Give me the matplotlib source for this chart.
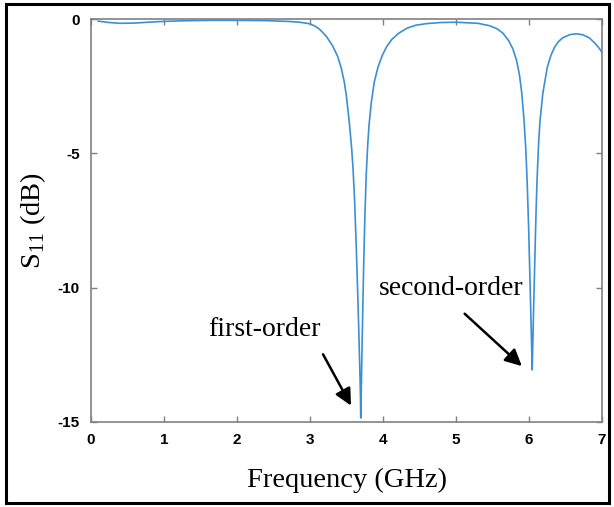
import matplotlib
matplotlib.use("Agg")
import matplotlib.pyplot as plt
from matplotlib.patches import Rectangle

# frequency (GHz) and reflection coefficient S11 (dB)
freq = [0.10, 0.25, 0.40, 0.60, 0.90, 1.20, 1.60, 2.00, 2.40, 2.70, 2.86, 3.00,
        3.08, 3.13, 3.22, 3.31, 3.38, 3.43, 3.47, 3.50, 3.54, 3.57, 3.59, 3.61,
        3.63, 3.65, 3.665, 3.68, 3.69, 3.695, 3.705, 3.715, 3.725, 3.735, 3.75,
        3.77, 3.79, 3.81, 3.84, 3.88, 3.93, 3.99, 4.05, 4.12, 4.22, 4.33, 4.45,
        4.60, 4.80, 5.00, 5.30, 5.46, 5.56, 5.64, 5.72, 5.78, 5.83, 5.87, 5.90,
        5.93, 5.955, 5.975, 5.995, 6.01, 6.025, 6.035, 6.043, 6.05, 6.06, 6.07,
        6.08, 6.095, 6.11, 6.13, 6.15, 6.19, 6.25, 6.30, 6.35, 6.40, 6.46, 6.56,
        6.65, 6.74, 6.83, 6.91, 6.97, 7.00]
s11 = [-0.08, -0.13, -0.16, -0.15, -0.10, -0.07, -0.05, -0.05, -0.06, -0.09, -0.12, -0.18,
       -0.28, -0.38, -0.63, -1.00, -1.40, -1.85, -2.35, -2.90, -3.90, -4.80, -5.60, -6.70,
       -8.20, -9.90, -11.3, -12.8, -13.9, -14.85, -13.4, -11.9, -10.5, -9.2, -7.5,
       -5.8, -4.7, -3.9, -3.1, -2.35, -1.80, -1.35, -1.03, -0.76, -0.52, -0.34, -0.23,
       -0.17, -0.13, -0.12, -0.16, -0.25, -0.36, -0.52, -0.80, -1.12, -1.55, -2.10, -2.75,
       -3.70, -4.80, -6.10, -7.80, -9.40, -11.0, -12.1, -13.06, -12.3, -11.1, -10.0,
       -8.9, -7.3, -6.0, -4.7, -3.8, -2.75, -1.80, -1.35, -1.05, -0.85, -0.70, -0.58,
       -0.55, -0.59, -0.71, -0.92, -1.12, -1.25]

x_ticks = [0, 1, 2, 3, 4, 5, 6, 7]
y_ticks = [-15, -10, -5, 0]

serif = ["Liberation Serif", "DejaVu Serif"]
plt.rcParams["axes.unicode_minus"] = False
plt.rcParams["mathtext.fontset"] = "custom"
plt.rcParams["mathtext.rm"] = "Liberation Serif"

fig = plt.figure(figsize=(6.14, 5.07), dpi=100)
ax = fig.add_axes([0.1482, 0.1677, 0.8323, 0.7948])

ax.plot(freq, s11, color="#3a8fd6", linewidth=1.2)

ax.set_xlim(0, 7)
ax.set_ylim(-15, 0)
ax.set_xticks(x_ticks)
ax.set_yticks(y_ticks)
ax.tick_params(direction="in", length=4, width=1, color="#808080",
               top=True, right=True, labelsize=11, pad=8)
for lbl in ax.get_xticklabels() + ax.get_yticklabels():
    lbl.set_fontweight("bold")
    lbl.set_family(["Liberation Sans", "DejaVu Sans"])
for sp in ax.spines.values():
    sp.set_color("#808080")
    sp.set_linewidth(1.2)

ax.set_xlabel("Frequency (GHz)", family=serif, fontsize=20.5, labelpad=15)
ax.set_ylabel(r"S$_{11}$ (dB)", family=serif, fontsize=20.5, labelpad=7)

arrow = dict(arrowstyle="-|>,head_length=1.0,head_width=0.5", color="black", lw=1.8)
ax.annotate("", xy=(3.58, -14.48), xytext=(3.16, -12.39), arrowprops=arrow)
ax.annotate("", xy=(5.93, -12.99), xytext=(5.09, -10.9), arrowprops=arrow)
ax.text(2.37, -11.55, "first-order", family=serif, fontsize=20, ha="center", va="center")
ax.text(4.94, -10.05, "second-order", family=serif, fontsize=20, ha="center", va="center")

fig.patches.append(Rectangle((6 / 614, 4 / 507), 603 / 614, 499 / 507,
                             transform=fig.transFigure, fill=False,
                             edgecolor="black", linewidth=2.2))

fig.savefig("out.png", dpi=100)
